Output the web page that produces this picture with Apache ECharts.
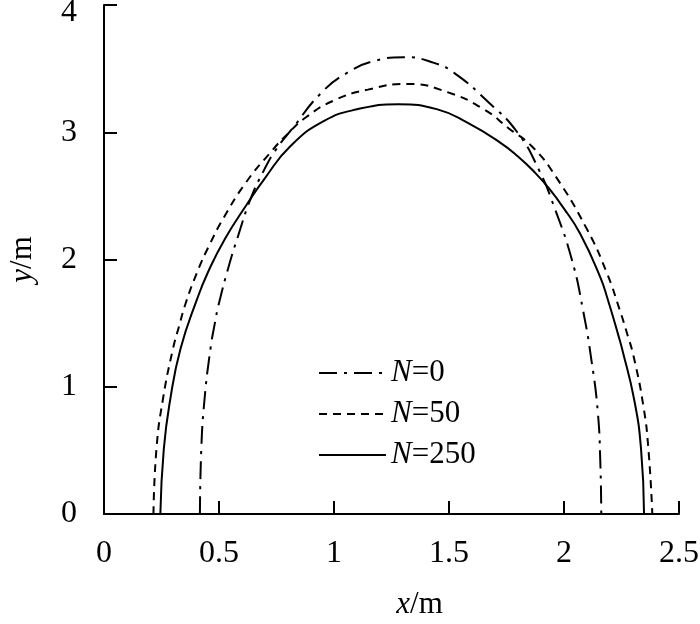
<!DOCTYPE html>
<html>
<head>
<meta charset="utf-8">
<script src="https://cdn.jsdelivr.net/npm/echarts@6/dist/echarts.min.js"></script>
<style>html,body{margin:0;padding:0;background:#fff;}#c{width:700px;height:624px;}</style>
</head>
<body>
<div id="c"></div>
<script>
var xTicks = [0, 0.5, 1, 1.5, 2, 2.5];
var yTicks = [0, 1, 2, 3, 4];
var seriesNames = ['N=0', 'N=50', 'N=250'];

var n0 = [[0.417,0],[0.423,0.51],[0.437,0.90],[0.463,1.30],[0.48,1.48],[0.499,1.65],[0.547,1.976],[0.583,2.185],[0.636,2.47],[0.695,2.70],[0.75,2.87],[0.815,3.02],[0.945,3.31],[1.06,3.47],[1.175,3.56],[1.305,3.59],[1.435,3.545],[1.522,3.467],[1.667,3.244],[1.797,3.0],[1.892,2.70],[1.96,2.40],[2.034,2.0],[2.083,1.6],[2.12,1.2],[2.147,0.8],[2.158,0.4],[2.162,0]];

var n50 = [[0.215,0],[0.228,0.51],[0.256,0.90],[0.30,1.30],[0.327,1.48],[0.354,1.65],[0.405,1.90],[0.46,2.12],[0.521,2.33],[0.615,2.60],[0.723,2.84],[0.80,2.99],[0.88,3.12],[1.0,3.25],[1.147,3.335],[1.32,3.38],[1.493,3.315],[1.652,3.18],[1.76,3.03],[1.86,2.89],[1.963,2.655],[2.10,2.237],[2.185,1.90],[2.243,1.60],[2.273,1.426],[2.302,1.243],[2.345,0.85],[2.367,0.51],[2.384,0]];

var n250 = [[0.245,0],[0.26,0.51],[0.288,0.90],[0.333,1.30],[0.405,1.69],[0.452,1.90],[0.525,2.16],[0.62,2.43],[0.70,2.64],[0.81,2.89],[0.955,3.087],[1.10,3.18],[1.28,3.22],[1.45,3.18],[1.58,3.075],[1.724,2.917],[1.80,2.81],[1.87,2.69],[1.934,2.56],[2.00,2.40],[2.071,2.20],[2.158,1.86],[2.19,1.688],[2.237,1.40],[2.253,1.295],[2.305,0.90],[2.335,0.51],[2.348,0]];

var serif = '"Liberation Serif", "Times New Roman", serif';
var chart = echarts.init(document.getElementById('c'), null, {renderer: 'canvas'});

function mkSeries(name, data, type, width) {
  return {
    name: name, type: 'line', data: data, symbol: 'none',
    smooth: 0.5,
    lineStyle: {color: '#000', width: width, type: type},
    itemStyle: {color: '#000'},
    emphasis: {disabled: true}
  };
}

chart.setOption({
  animation: false,
  backgroundColor: '#fff',
  grid: {left: 104, right: 21, top: 5, bottom: 110, containLabel: false, outerBoundsMode: 'none'},
  legend: {
    orient: 'vertical', left: 313, top: 352,
    itemWidth: 67, itemHeight: 14, itemGap: 9,
    data: seriesNames,
    itemStyle: {opacity: 0},
    formatter: function (n) { return '{i|N}{t|' + n.slice(1) + '}'; },
    textStyle: {
      fontFamily: serif, fontSize: 31, color: '#000', lineHeight: 32,
      rich: {
        i: {fontFamily: serif, fontSize: 31, fontStyle: 'italic', color: '#000'},
        t: {fontFamily: serif, fontSize: 31, color: '#000'}
      }
    }
  },
  xAxis: {
    type: 'value', min: 0, max: 2.5, interval: 0.5,
    name: '{i|x}{t|/m}', nameLocation: 'middle', nameGap: 75,
    nameTextStyle: {
      padding: [0,0,0,56],
      rich: {
        i: {fontFamily: serif, fontSize: 31, fontStyle: 'italic', color: '#000'},
        t: {fontFamily: serif, fontSize: 31, color: '#000'}
      }
    },
    axisLine: {show: true, lineStyle: {color: '#000', width: 2}},
    axisTick: {show: true, inside: true, length: 13, lineStyle: {color: '#000', width: 2}},
    axisLabel: {
      color: '#000', fontFamily: serif, fontSize: 32, margin: 24,
      formatter: function (v) { return xTicks.indexOf(v) >= 0 ? String(v) : ''; }
    },
    splitLine: {show: false}
  },
  yAxis: {
    type: 'value', min: 0, max: 4, interval: 1,
    name: '{i|y}{t|/m}', nameLocation: 'middle', nameGap: 66,
    nameTextStyle: {
      rich: {
        i: {fontFamily: serif, fontSize: 31, fontStyle: 'italic', color: '#000'},
        t: {fontFamily: serif, fontSize: 31, color: '#000'}
      }
    },
    axisLine: {show: true, lineStyle: {color: '#000', width: 2}},
    axisTick: {show: true, inside: true, length: 13, lineStyle: {color: '#000', width: 2}},
    axisLabel: {
      color: '#000', fontFamily: serif, fontSize: 32, margin: 27,
      formatter: function (v) {
        if (yTicks.indexOf(v) < 0) return '';
        return v === yTicks[yTicks.length - 1] ? '{top|' + v + '}' : String(v);
      },
      rich: {
        top: {fontFamily: serif, fontSize: 32, color: '#000', padding: [16, 0, 0, 0]}
      }
    },
    splitLine: {show: false}
  },
  series: [
    mkSeries(seriesNames[0], n0, [18, 7, 3, 7], 2),
    mkSeries(seriesNames[1], n50, [8, 6], 2),
    mkSeries(seriesNames[2], n250, 'solid', 2)
  ]
});
</script>
</body>
</html>
